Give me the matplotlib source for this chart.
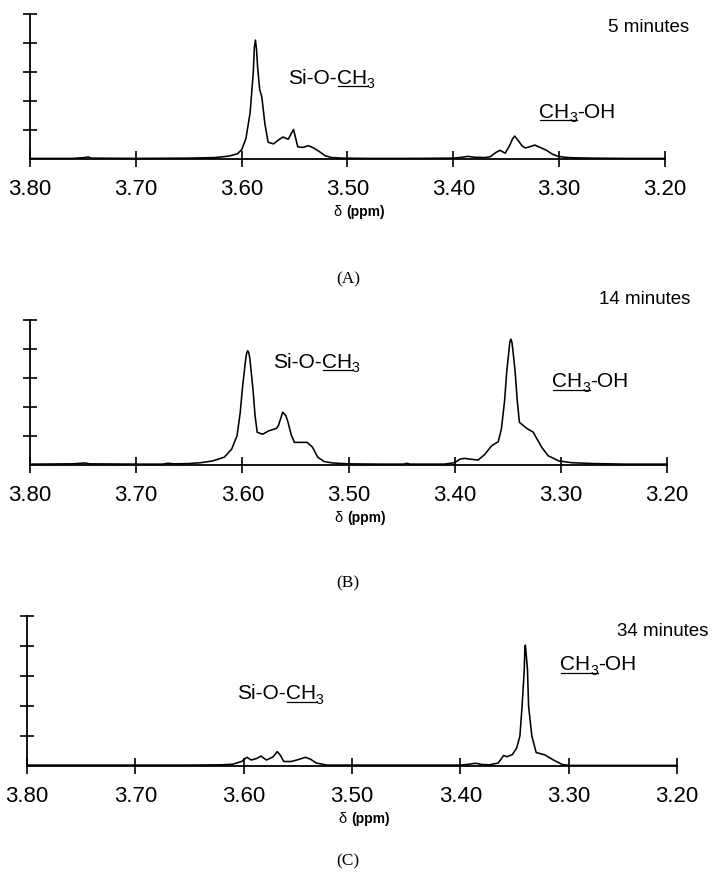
import matplotlib
matplotlib.use("Agg")
import matplotlib.pyplot as plt
from matplotlib.lines import Line2D

W, H = 712, 887
DPI = 100

# ---------------- data ----------------
xticks = [3.80, 3.70, 3.60, 3.50, 3.40, 3.30, 3.20]
xtick_labels = ["3.80", "3.70", "3.60", "3.50", "3.40", "3.30", "3.20"]
yticks = [1, 2, 3, 4, 5]

ppm_A = [3.800, 3.760, 3.748, 3.745, 3.742, 3.700, 3.650, 3.625, 3.612, 3.604,
         3.600, 3.596, 3.592, 3.589, 3.588, 3.587, 3.586, 3.585, 3.583, 3.581,
         3.578, 3.575, 3.570, 3.565, 3.561, 3.556, 3.551, 3.547, 3.542, 3.537,
         3.532, 3.526, 3.521, 3.515, 3.505, 3.480, 3.440, 3.400, 3.392, 3.386,
         3.380, 3.370, 3.365, 3.360, 3.356, 3.351, 3.347, 3.344, 3.342, 3.339,
         3.335, 3.332, 3.328, 3.323, 3.318, 3.312, 3.307, 3.302, 3.295, 3.285,
         3.270, 3.240, 3.200]
int_A = [0.02, 0.02, 0.05, 0.07, 0.03, 0.02, 0.03, 0.05, 0.10, 0.18,
         0.32, 0.70, 1.60, 3.00, 3.85, 4.10, 3.80, 3.20, 2.40, 2.15,
         1.20, 0.58, 0.52, 0.66, 0.76, 0.68, 1.02, 0.42, 0.40, 0.46,
         0.38, 0.24, 0.11, 0.05, 0.03, 0.02, 0.02, 0.03, 0.06, 0.09,
         0.06, 0.05, 0.08, 0.22, 0.30, 0.20, 0.45, 0.70, 0.79, 0.65,
         0.45, 0.38, 0.42, 0.48, 0.40, 0.30, 0.18, 0.10, 0.06, 0.04,
         0.03, 0.02, 0.02]

ppm_B = [3.800, 3.760, 3.748, 3.744, 3.700, 3.675, 3.670, 3.665, 3.650, 3.639,
         3.628, 3.617, 3.610, 3.605, 3.602, 3.600, 3.597, 3.596, 3.595, 3.594,
         3.593, 3.590, 3.588, 3.586, 3.581, 3.575, 3.568, 3.566, 3.562, 3.559,
         3.557, 3.554, 3.551, 3.545, 3.539, 3.534, 3.529, 3.523, 3.515, 3.500,
         3.470, 3.448, 3.445, 3.442, 3.410, 3.400, 3.395, 3.391, 3.385, 3.378,
         3.372, 3.365, 3.359, 3.356, 3.353, 3.351, 3.349, 3.348, 3.347, 3.346,
         3.345, 3.343, 3.341, 3.339, 3.332, 3.326, 3.318, 3.312, 3.302, 3.290,
         3.270, 3.240, 3.200]
int_B = [0.03, 0.04, 0.07, 0.04, 0.03, 0.03, 0.06, 0.04, 0.05, 0.08,
         0.14, 0.27, 0.55, 1.01, 1.80, 2.62, 3.60, 3.85, 3.94, 3.88,
         3.70, 2.62, 1.70, 1.13, 1.06, 1.18, 1.26, 1.36, 1.82, 1.70,
         1.48, 1.05, 0.78, 0.78, 0.78, 0.62, 0.27, 0.12, 0.07, 0.04,
         0.03, 0.03, 0.06, 0.03, 0.03, 0.08, 0.20, 0.23, 0.20, 0.17,
         0.35, 0.67, 0.80, 1.24, 2.20, 3.20, 3.90, 4.25, 4.34, 4.22,
         3.90, 3.20, 2.20, 1.47, 1.26, 1.13, 0.61, 0.32, 0.14, 0.08,
         0.05, 0.03, 0.03]

ppm_C = [3.800, 3.700, 3.650, 3.620, 3.610, 3.602, 3.597, 3.593, 3.588, 3.584,
         3.579, 3.573, 3.569, 3.566, 3.563, 3.556, 3.549, 3.543, 3.538, 3.533,
         3.523, 3.500, 3.450, 3.400, 3.394, 3.386, 3.380, 3.373, 3.365, 3.360,
         3.357, 3.352, 3.348, 3.345, 3.343, 3.341, 3.3405, 3.340, 3.3395, 3.338,
         3.337, 3.334, 3.330, 3.322, 3.314, 3.306, 3.299, 3.250, 3.200]
int_C = [0.03, 0.03, 0.03, 0.04, 0.06, 0.15, 0.29, 0.20, 0.25, 0.33,
         0.20, 0.30, 0.48, 0.35, 0.15, 0.15, 0.22, 0.29, 0.22, 0.10,
         0.03, 0.03, 0.03, 0.03, 0.05, 0.09, 0.05, 0.04, 0.10, 0.35,
         0.31, 0.38, 0.60, 1.00, 2.00, 3.20, 3.85, 4.03, 3.85, 3.20,
         2.00, 1.00, 0.45, 0.37, 0.20, 0.05, 0.02, 0.02, 0.02]

times = ["5 minutes", "14 minutes", "34 minutes"]
panel_tags = ["(A)", "(B)", "(C)"]

# ---------------- layout (pixels from top-left) ----------------
panels = [
    dict(ppm=ppm_A, inten=int_A, left=30, right=665, top=15, base=160,
         time_xy=(689, 28), si_xy=(288, 76), me_xy=(539, 110), tag_y=279),
    dict(ppm=ppm_B, inten=int_B, left=30, right=667, top=321, base=466,
         time_xy=(690, 300), si_xy=(273, 360), me_xy=(552, 380), tag_y=583),
    dict(ppm=ppm_C, inten=int_C, left=27, right=677, top=617, base=767,
         time_xy=(708, 632), si_xy=(237, 692), me_xy=(560, 663), tag_y=861),
]

SANS = "Liberation Sans"
SERIF = "Liberation Serif"
plt.rcParams["font.family"] = [SANS, "DejaVu Sans"]

fig = plt.figure(figsize=(W / DPI, H / DPI), dpi=DPI)
fig.patch.set_facecolor("white")
renderer = fig.canvas.get_renderer()


def fx(x):
    return x / W


def fy(y):
    return 1 - y / H


def rich_label(x, yc, parts, size):
    """parts: list of (text, is_subscript, underline). x left, yc = cap centre (px)."""
    spx = size * DPI / 72.0
    base = yc + 0.36 * spx
    cx = x
    for s, sub, ul in parts:
        fs = size * 0.68 if sub else size
        yy = base + (0.22 * spx if sub else 0)
        t = fig.text(fx(cx), fy(yy), s, fontsize=fs, ha="left", va="baseline",
                     family=[SANS, "DejaVu Sans"], color="black")
        bb = t.get_window_extent(renderer)
        if ul:
            uy = base + 0.16 * spx
            fig.add_artist(Line2D([fx(bb.x0 + 1), fx(bb.x1)], [fy(uy), fy(uy)],
                                  transform=fig.transFigure, color="black", lw=0.9))
        cx = bb.x1


for i, p in enumerate(panels):
    ax = fig.add_axes([fx(p["left"]), fy(p["base"]),
                       (p["right"] - p["left"]) / W, (p["base"] - p["top"]) / H])
    ax.plot(p["ppm"], p["inten"], color="black", lw=1.15, solid_joinstyle="round")
    ax.set_xlim(3.80, 3.20)
    ax.set_ylim(0, 5)
    for s in ["top", "right"]:
        ax.spines[s].set_visible(False)
    for s in ["left", "bottom"]:
        ax.spines[s].set_linewidth(1.3)
    ax.set_xticks(xticks)
    ax.set_xticklabels(xtick_labels)
    ax.set_yticks(yticks)
    ax.set_yticklabels([])
    ax.tick_params(axis="x", direction="inout", length=11, width=1.2,
                   labelsize=16, pad=8)
    ax.tick_params(axis="y", direction="inout", length=10, width=1.2)
    ax.patch.set_alpha(0)

    xc = (p["left"] + p["right"]) / 2 - 1
    fig.text(fx(xc), fy(p["base"] + 52), "δ ", fontsize=10.5, ha="right", va="center",
             family=[SANS, "DejaVu Sans"])
    fig.text(fx(xc), fy(p["base"] + 52), "(ppm)", fontsize=10, fontweight="bold",
             ha="left", va="center", family=[SANS, "DejaVu Sans"])
    fig.text(fx(348), fy(p["tag_y"]), panel_tags[i], fontsize=12.5, ha="center",
             va="center", family=[SERIF, "DejaVu Serif"])

    tx, ty = p["time_xy"]
    fig.text(fx(tx), fy(ty), times[i], fontsize=13.5, ha="right", va="center",
             family=[SANS, "DejaVu Sans"])

    sx, sy = p["si_xy"]
    rich_label(sx, sy, [("Si-O-", False, False), ("CH", False, True), ("3", True, False)], 15)
    mx, my = p["me_xy"]
    rich_label(mx, my, [("CH", False, True), ("3", True, True), ("-OH", False, False)], 15)

fig.savefig("out.png", dpi=DPI, facecolor="white")
